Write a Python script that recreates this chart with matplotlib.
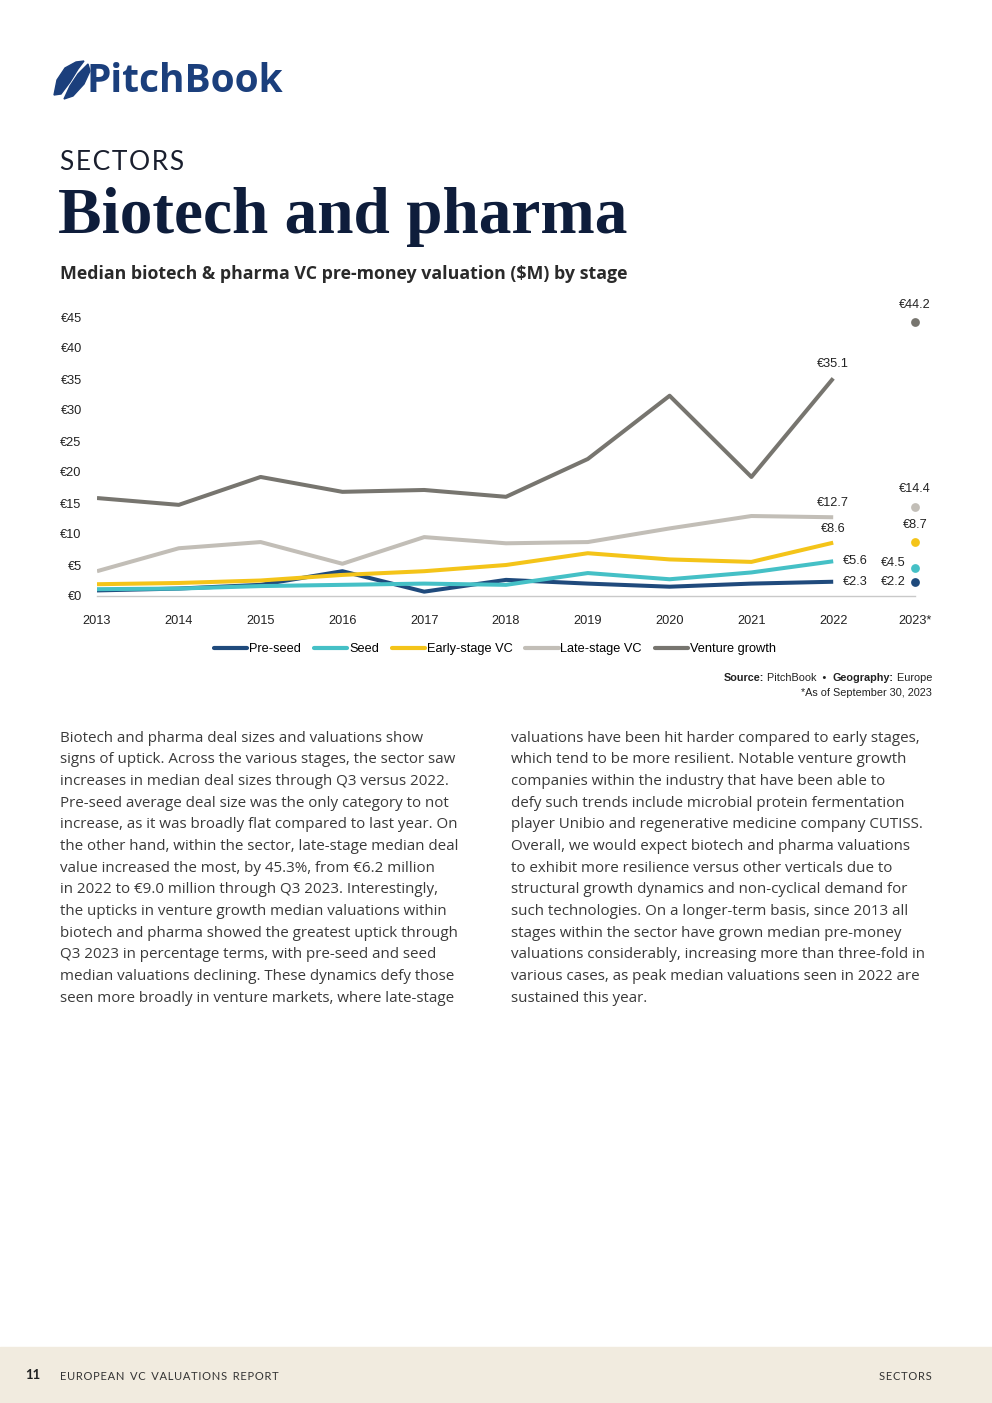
import matplotlib
matplotlib.use("Agg")
import matplotlib.pyplot as plt
from matplotlib.patches import Rectangle, Polygon
from matplotlib.lines import Line2D

# ---------------- data ----------------
years = ["2013", "2014", "2015", "2016", "2017", "2018", "2019", "2020", "2021", "2022"]
last_year = "2023*"
series_names = ["Pre-seed", "Seed", "Early-stage VC", "Late-stage VC", "Venture growth"]
pre_seed = [0.9, 1.2, 1.8, 4.0, 0.7, 2.6, 2.0, 1.5, 2.0, 2.3]
seed = [1.1, 1.2, 1.6, 1.8, 2.0, 1.8, 3.7, 2.7, 3.8, 5.6]
early_stage = [1.9, 2.1, 2.5, 3.4, 4.0, 5.0, 6.9, 5.9, 5.5, 8.6]
late_stage = [4.0, 7.7, 8.7, 5.2, 9.5, 8.5, 8.7, 10.9, 12.9, 12.7]
venture_growth = [15.8, 14.7, 19.2, 16.8, 17.1, 16.0, 22.1, 32.3, 19.2, 35.1]
values_2023 = [2.2, 4.5, 8.7, 14.4, 44.2]
yticks = [0, 5, 10, 15, 20, 25, 30, 35, 40, 45]

colors = ["#1f4a7c", "#45c0c6", "#f4c419", "#c2beb7", "#77756f"]

W, H = 992, 1403
fig = plt.figure(figsize=(W / 100, H / 100), dpi=100)
fig.patch.set_facecolor("white")

# overlay axes in pixel coordinates
ov = fig.add_axes([0, 0, 1, 1])
ov.set_xlim(0, W)
ov.set_ylim(H, 0)
ov.axis("off")

HS = "\u200a"
def spaced(s):
    return HS.join(s).replace(HS + " " + HS, "\u2002")

# footer band
ov.add_patch(Rectangle((0, 1347), W, 56, color="#f1ebdf", zorder=0))
ov.text(25, 1375, "11", fontsize=9.5, fontweight="bold", color="#222222",
        va="center", ha="left", family="Lato")
ov.text(60, 1376, spaced("EUROPEAN VC VALUATIONS REPORT"),
        fontsize=8, color="#333333", va="center", ha="left", family="Lato")
ov.text(932, 1376, spaced("SECTORS"), fontsize=8, color="#333333",
        va="center", ha="right", family="Lato")

# logo
logo_col = "#1b3f7c"
feather1 = [(54, 95), (57, 80), (65, 68), (76, 62), (84, 61), (78, 69), (70, 82), (61, 94)]
feather2 = [(64, 99), (70, 86), (78, 74), (88, 64), (90, 71), (84, 84), (73, 96)]
ov.add_patch(Polygon(feather1, closed=True, color=logo_col, zorder=3))
ov.add_patch(Polygon(feather2, closed=True, color=logo_col, zorder=3))
ov.text(86, 81, "PitchBook", fontsize=28, fontweight="bold", color=logo_col,
        va="center", ha="left", family="Open Sans")

# headings
ov.text(60, 162, spaced("SECTORS"), fontsize=19, fontweight="normal", color="#1a1f2e",
        va="center", ha="left", family="Lato")
ov.text(58, 217, "Biotech and pharma", fontsize=47, fontweight="bold", color="#0e1d3b",
        va="center", ha="left", family="Liberation Serif")
ov.text(60, 274, "Median biotech & pharma VC pre-money valuation ($M) by stage",
        fontsize=12.8, fontweight="bold", color="#2a2a2a", va="center", ha="left",
        family="Open Sans")

# source (right aligned chain)
renderer = fig.canvas.get_renderer()
def chain_right(x_right, y, parts, size, font):
    x = x_right
    for txt, bold in reversed(parts):
        t = ov.text(x, y, txt, fontsize=size, fontweight="bold" if bold else "normal",
                    color="#222222", va="center", ha="right", family=font)
        bb = t.get_window_extent(renderer=renderer)
        x -= bb.width
chain_right(932, 678, [("Source:", True), (" PitchBook  \u2022  ", False),
                       ("Geography:", True), (" Europe", False)], 7.8, "Liberation Sans")
ov.text(932, 693, "*As of September 30, 2023", fontsize=7.8, color="#222222",
        va="center", ha="right", family="Liberation Sans")

# body text
left_col = [
    "Biotech and pharma deal sizes and valuations show",
    "signs of uptick. Across the various stages, the sector saw",
    "increases in median deal sizes through Q3 versus 2022.",
    "Pre-seed average deal size was the only category to not",
    "increase, as it was broadly flat compared to last year. On",
    "the other hand, within the sector, late-stage median deal",
    "value increased the most, by 45.3%, from \u20ac6.2 million",
    "in 2022 to \u20ac9.0 million through Q3 2023. Interestingly,",
    "the upticks in venture growth median valuations within",
    "biotech and pharma showed the greatest uptick through",
    "Q3 2023 in percentage terms, with pre-seed and seed",
    "median valuations declining. These dynamics defy those",
    "seen more broadly in venture markets, where late-stage",
]
right_col = [
    "valuations have been hit harder compared to early stages,",
    "which tend to be more resilient. Notable venture growth",
    "companies within the industry that have been able to",
    "defy such trends include microbial protein fermentation",
    "player Unibio and regenerative medicine company CUTISS.",
    "Overall, we would expect biotech and pharma valuations",
    "to exhibit more resilience versus other verticals due to",
    "structural growth dynamics and non-cyclical demand for",
    "such technologies. On a longer-term basis, since 2013 all",
    "stages within the sector have grown median pre-money",
    "valuations considerably, increasing more than three-fold in",
    "various cases, as peak median valuations seen in 2022 are",
    "sustained this year.",
]
for i, line in enumerate(left_col):
    ov.text(60, 738 + i * 21.67, line, fontsize=10.9, color="#3a3a3a",
            va="center", ha="left", family="Open Sans")
for i, line in enumerate(right_col):
    ov.text(511, 738 + i * 21.67, line, fontsize=10.9, color="#3a3a3a",
            va="center", ha="left", family="Open Sans")

# ---------------- chart ----------------
x0, x1 = 97, 915
yb, yt = 596, 317
ax = fig.add_axes([x0 / W, 1 - yb / H, (x1 - x0) / W, (yb - yt) / H])
ax.set_xlim(0, 10)
ax.set_ylim(0, 45)
ax.patch.set_alpha(0)
for s in ["top", "right", "left"]:
    ax.spines[s].set_visible(False)
ax.spines["bottom"].set_color("#c9c9c9")
ax.spines["bottom"].set_linewidth(1)

chart_font = ["Liberation Sans", "DejaVu Sans"]
fs = 9.2
xs = list(range(len(years)))
all_series = [pre_seed, seed, early_stage, late_stage, venture_growth]
for name, vals, col in zip(series_names, all_series, colors):
    ax.plot(xs, vals, color=col, lw=2.9, solid_capstyle="butt", label=name, zorder=3)
for v, col in zip(values_2023, colors):
    ax.scatter([10], [v], s=40, color=col, zorder=4, clip_on=False, linewidths=0)

ax.set_xticks(list(range(11)))
ax.set_xticklabels(years + [last_year], family=chart_font, fontsize=fs, color="#222222")
ax.set_yticks(yticks)
ax.set_yticklabels([f"\u20ac{t}" for t in yticks], family=chart_font, fontsize=fs, color="#222222")
ax.tick_params(axis="both", length=0)
ax.tick_params(axis="y", pad=11)
ax.tick_params(axis="x", pad=14)

lab_kw = dict(family=chart_font, fontsize=fs, color="#222222")
# 2022 labels
ax.annotate(f"\u20ac{pre_seed[-1]}", (9, pre_seed[-1]), xytext=(7, 0), textcoords="offset points",
            ha="left", va="center", **lab_kw)
ax.annotate(f"\u20ac{seed[-1]}", (9, seed[-1]), xytext=(7, 0), textcoords="offset points",
            ha="left", va="center", **lab_kw)
for vals in [early_stage, late_stage, venture_growth]:
    ax.annotate(f"\u20ac{vals[-1]}", (9, vals[-1]), xytext=(0, 10), textcoords="offset points",
                ha="center", va="center", annotation_clip=False, **lab_kw)
# 2023 labels
ax.annotate(f"\u20ac{values_2023[0]}", (10, values_2023[0]), xytext=(-7, 0), textcoords="offset points",
            ha="right", va="center", annotation_clip=False, **lab_kw)
ax.annotate(f"\u20ac{values_2023[1]}", (10, values_2023[1]), xytext=(-7, 3.5), textcoords="offset points",
            ha="right", va="center", annotation_clip=False, **lab_kw)
for v in values_2023[2:]:
    ax.annotate(f"\u20ac{v}", (10, v), xytext=(0, 12.5), textcoords="offset points",
                ha="center", va="center", annotation_clip=False, **lab_kw)

handles = [Line2D([0], [0], color=c, lw=3, solid_capstyle="round") for c in colors]
fig.legend(handles, series_names, loc="center", bbox_to_anchor=(495 / W, 1 - 649 / H),
           ncol=5, frameon=False, handlelength=2.6, handletextpad=0.15, columnspacing=1.0,
           prop={"family": chart_font, "size": fs})

fig.savefig("out.png", dpi=100)
